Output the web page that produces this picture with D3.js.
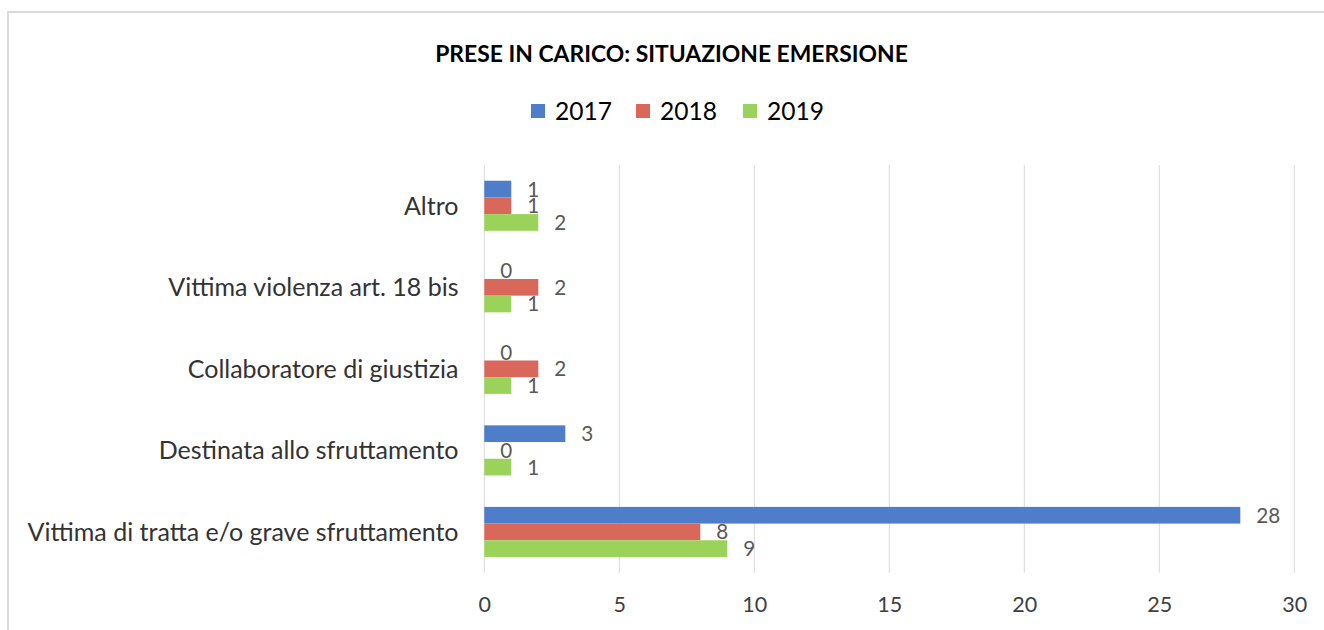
<!DOCTYPE html>
<html>
<head>
<meta charset="utf-8">
<script src="https://cdn.jsdelivr.net/npm/d3@7/dist/d3.min.js"></script>
<style>
  html, body { margin: 0; padding: 0; background: #fff; }
  svg { display: block; }
</style>
</head>
<body>
<svg id="chart" width="1324" height="630"></svg>
<script>
// ---- data ----
const title = "PRESE IN CARICO: SITUAZIONE EMERSIONE";
const categories = [
  "Altro",
  "Vittima violenza art. 18 bis",
  "Collaboratore di giustizia",
  "Destinata allo sfruttamento",
  "Vittima di tratta e/o grave sfruttamento"
];
const seriesNames = ["2017", "2018", "2019"];
const values2017 = [1, 0, 0, 3, 28];
const values2018 = [1, 2, 2, 0, 8];
const values2019 = [2, 1, 1, 1, 9];
const xTicks = [0, 5, 10, 15, 20, 25, 30];
const colors = ["#4E7DC9", "#D9675A", "#9BD35A"];

const seriesValues = [values2017, values2018, values2019];

// ---- layout ----
const W = 1324, H = 630;
const plot = { left: 484.3, right: 1294.3, top: 165, bottom: 572.7 };
const FONT = "Lato, 'Open Sans', sans-serif";

const svg = d3.select("#chart");
svg.append("rect").attr("width", W).attr("height", H).attr("fill", "#fff");

// border (top + left)
svg.append("path")
  .attr("d", `M8,${H} V12 H${W}`)
  .attr("fill", "none")
  .attr("stroke", "#DADADA")
  .attr("stroke-width", 2);

// font fitting helper
function fitSize(text, targetWidth, weight) {
  const probe = svg.append("text")
    .attr("font-family", FONT)
    .attr("font-weight", weight || "normal")
    .attr("font-size", 100)
    .text(text);
  const w = probe.node().getComputedTextLength();
  probe.remove();
  return 100 * targetWidth / w;
}

const titleSize = fitSize(title, 473, "bold");
const legendSize = fitSize("2017", 57);
const catSize = fitSize(categories[4], 431);
const tickSize = fitSize("10", 25);
const labelSize = fitSize("28", 24);

// title
svg.append("text")
  .attr("x", 671.5)
  .attr("y", 61.5)
  .attr("text-anchor", "middle")
  .attr("font-family", FONT)
  .attr("font-weight", "bold")
  .attr("font-size", titleSize)
  .attr("fill", "#000")
  .text(title);

// legend
const legendX = [531, 636, 743];
const lg = svg.append("g");
seriesNames.forEach((name, i) => {
  lg.append("rect")
    .attr("x", legendX[i]).attr("y", 104)
    .attr("width", 14).attr("height", 14)
    .attr("fill", colors[i]);
  lg.append("text")
    .attr("x", legendX[i] + 24)
    .attr("y", 120)
    .attr("font-family", FONT)
    .attr("font-size", legendSize)
    .attr("fill", "#000")
    .text(name);
});

// scales
const x = d3.scaleLinear().domain([0, 30]).range([plot.left, plot.right]);
const y = d3.scaleBand()
  .domain(categories)
  .range([plot.top, plot.bottom])
  .paddingInner(0.386)
  .paddingOuter(0.193);
const ySub = d3.scaleBand()
  .domain(seriesNames)
  .range([0, y.bandwidth()]);

// gridlines
const xAxis = d3.axisBottom(x).tickValues(xTicks).tickSize(0).tickPadding(0);
svg.append("g")
  .selectAll("line")
  .data(xTicks)
  .join("line")
  .attr("x1", d => x(d)).attr("x2", d => x(d))
  .attr("y1", plot.top).attr("y2", plot.bottom)
  .attr("stroke", "#D9D9D9")
  .attr("stroke-width", 1);

// x axis tick labels
const axisG = svg.append("g")
  .attr("transform", `translate(0,${611.5})`)
  .call(xAxis);
axisG.select(".domain").remove();
axisG.selectAll("text")
  .attr("font-family", FONT)
  .attr("font-size", tickSize)
  .attr("fill", "#404040")
  .attr("dy", 0)
  .attr("y", 0);

// category labels
svg.append("g")
  .selectAll("text")
  .data(categories)
  .join("text")
  .attr("x", 458.5)
  .attr("y", d => y(d) + y.bandwidth() / 2 + catSize * 0.36)
  .attr("text-anchor", "end")
  .attr("font-family", FONT)
  .attr("font-size", catSize)
  .attr("fill", "#333")
  .text(d => d);

// bars
const barData = [];
categories.forEach((c, ci) => {
  seriesNames.forEach((s, si) => {
    barData.push({ cat: c, series: s, si, value: seriesValues[si][ci] });
  });
});

svg.append("g")
  .selectAll("rect")
  .data(barData)
  .join("rect")
  .attr("x", x(0))
  .attr("y", d => y(d.cat) + ySub(d.series))
  .attr("width", d => x(d.value) - x(0))
  .attr("height", ySub.bandwidth())
  .attr("fill", d => colors[d.si]);

// data labels
svg.append("g")
  .selectAll("text")
  .data(barData)
  .join("text")
  .attr("x", d => x(d.value) + 16)
  .attr("y", d => y(d.cat) + ySub(d.series) + ySub.bandwidth() / 2 + labelSize * 0.36)
  .attr("font-family", FONT)
  .attr("font-size", labelSize)
  .attr("fill", "#595959")
  .text(d => d.value);
</script>
</body>
</html>
